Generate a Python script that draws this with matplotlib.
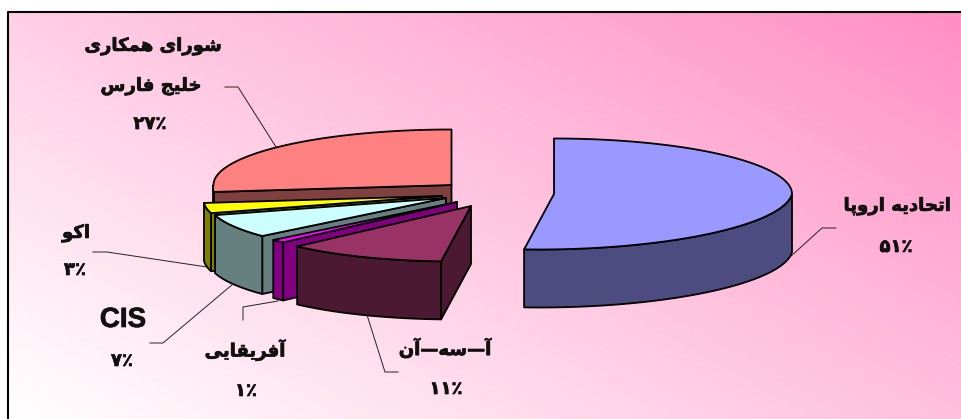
import numpy as np
from matplotlib import pyplot as plt
from matplotlib import patheffects
from matplotlib.colors import LinearSegmentedColormap
from matplotlib.patches import Polygon

# data, clockwise from twelve o'clock
name_lines = [['اتحادیه اروپا'], ['آ—سه—آن'], ['آفریقایی'], ['CIS'], ['اکو'], ['شورای همکاری', 'خلیج فارس']]
values = [51, 11, 1, 7, 3, 27]
percent_labels = ['۵۱٪', '۱۱٪', '۱٪', '۷٪', '۳٪', '۲۷٪']

# style and layout, same order as the data
top_colors = ['#9999FF', '#993366', '#FF00FF', '#CCFFFF', '#FFFF00', '#FF8080']
wall_colors = ['#4C4C80', '#4C1933', '#800080', '#668080', '#808000', '#804040']
centers = [(554, 194), (471, 206), (457, 202), (446, 198), (442, 196), (451.5, 185)]
draw_order = [5, 4, 3, 2, 1, 0]
name_pos = [[(897, 206)], [(445, 349)], [(245, 350)], [(123, 320)], [(76, 233)], [(153, 46), (151, 86)]]
pct_pos = [(896, 247), (446, 389), (246, 391), (122, 361), (75, 270), (150, 124)]
RX, RY, DEPTH, SKEW = 238, 55.5, 58, 0.27
LW = 1.3
FS = 13

# (no text shaping in matplotlib, so the Persian goes through presentation forms)
FORMS = {'ا': (0xFE8D, 0xFE8E), 'آ': (0xFE81, 0xFE82), 'د': (0xFEA9, 0xFEAA),
         'ر': (0xFEAD, 0xFEAE), 'و': (0xFEED, 0xFEEE),
         'ت': (0xFE95, 0xFE96, 0xFE97, 0xFE98), 'ح': (0xFEA1, 0xFEA2, 0xFEA3, 0xFEA4),
         'ج': (0xFE9D, 0xFE9E, 0xFE9F, 0xFEA0), 'خ': (0xFEA5, 0xFEA6, 0xFEA7, 0xFEA8),
         'س': (0xFEB1, 0xFEB2, 0xFEB3, 0xFEB4), 'ش': (0xFEB5, 0xFEB6, 0xFEB7, 0xFEB8),
         'ف': (0xFED1, 0xFED2, 0xFED3, 0xFED4), 'ق': (0xFED5, 0xFED6, 0xFED7, 0xFED8),
         'ل': (0xFEDD, 0xFEDE, 0xFEDF, 0xFEE0), 'م': (0xFEE1, 0xFEE2, 0xFEE3, 0xFEE4),
         'ن': (0xFEE5, 0xFEE6, 0xFEE7, 0xFEE8), 'ه': (0xFEE9, 0xFEEA, 0xFEEB, 0xFEEC),
         'پ': (0xFB56, 0xFB57, 0xFB58, 0xFB59), 'ک': (0xFB8E, 0xFB8F, 0xFB90, 0xFB91),
         'ی': (0xFBFC, 0xFBFD, 0xFBFE, 0xFBFF)}


def fa(s):
    out = []
    for i, c in enumerate(s):
        if c not in FORMS:
            out.append(c)
            continue
        prev = s[i-1] if i > 0 else ''
        nxt = s[i+1] if i < len(s)-1 else ''
        join_prev = prev in FORMS and len(FORMS[prev]) == 4
        join_next = nxt in FORMS and len(FORMS[c]) == 4
        if join_prev and join_next:
            code = FORMS[c][3]
        elif join_next:
            code = FORMS[c][2]
        elif join_prev:
            code = FORMS[c][1]
        else:
            code = FORMS[c][0]
        out.append(chr(code))
    return ''.join(reversed(out))


def project(center, angle, drop=0):
    a = np.radians(angle)
    dy = -RY*np.cos(a)
    dx = RX*np.sin(a) - SKEW*np.maximum(dy, 0)
    return np.column_stack([center[0]+dx, center[1]+dy+drop])


fig = plt.figure(figsize=(9.62, 4.19), dpi=100)
ax = fig.add_axes([0, 0, 1, 1])
ax.axis('off')

# background gradient, white bottom left to pink top right
X, Y = np.meshgrid(np.linspace(0, 1, 200), np.linspace(0, 1, 100))
grad = 0.57*X + 0.43*(1-Y)
cmap = LinearSegmentedColormap.from_list('bg', ['#FFFFFF', '#FF8FC4'])
ax.imshow(grad, cmap=cmap, extent=(8.5, 962, 419, 12.5), aspect='auto', vmin=0, vmax=1, zorder=0)
ax.set_xlim(0, 962)
ax.set_ylim(419, 0)
ax.plot([8.5, 8.5, 962], [419, 12.5, 12.5], color='black', lw=1.5, zorder=1)

# slices
edges = np.cumsum([0] + values) / sum(values) * 360
for i in draw_order:
    a0, a1 = edges[i], edges[i+1]
    c = centers[i]
    z = 2 + draw_order.index(i)
    style = dict(edgecolor='black', lw=LW, joinstyle='round', zorder=z)
    if a0 > 0:
        p = project(c, a0)[0]
        wall = [c, p, (p[0], p[1]+DEPTH), (c[0], c[1]+DEPTH)]
        ax.add_patch(Polygon(wall, facecolor=wall_colors[i], **style))
    f0, f1 = max(a0, 90), min(a1, 270)
    if f1 > f0:
        t = np.linspace(f0, f1, 80)
        rim = np.vstack([project(c, t), project(c, t[::-1], DEPTH)])
        ax.add_patch(Polygon(rim, facecolor=wall_colors[i], **style))
    t = np.linspace(a0, a1, 120)
    ax.add_patch(Polygon(np.vstack([[c], project(c, t)]), facecolor=top_colors[i], **style))

# leader lines
leaders = [([836, 822, 790], [228, 228, 257]),
           ([398, 385, 367], [372, 372, 315]),
           ([243, 243, 278], [320, 307, 301]),
           ([150, 163, 233], [343, 343, 284]),
           ([93, 107, 207], [252, 252, 267]),
           ([225, 238, 276], [87, 87, 147])]
for lx, ly in leaders:
    ax.plot(lx, ly, color='#222222', lw=0.7, zorder=9)

# labels
heavy = [patheffects.withStroke(linewidth=0.5, foreground='#111111')]
for lines, spots in zip(name_lines, name_pos):
    for s, (x, y) in zip(lines, spots):
        if s == 'CIS':
            ax.text(x, y, s, ha='center', va='center', fontsize=20, fontweight='bold',
                    family='Liberation Sans', color='#111111', zorder=10, path_effects=heavy)
        else:
            ax.text(x, y, fa(s), ha='center', va='center', fontsize=FS, fontweight='bold',
                    family='DejaVu Sans', color='#111111', zorder=10, path_effects=heavy)

for (x, y), s in zip(pct_pos, percent_labels):
    ax.text(x, y, s, ha='center', va='center', fontsize=FS, fontweight='bold',
            family='DejaVu Sans', color='#111111', zorder=10, path_effects=heavy)

fig.savefig('out.png', dpi=100)
